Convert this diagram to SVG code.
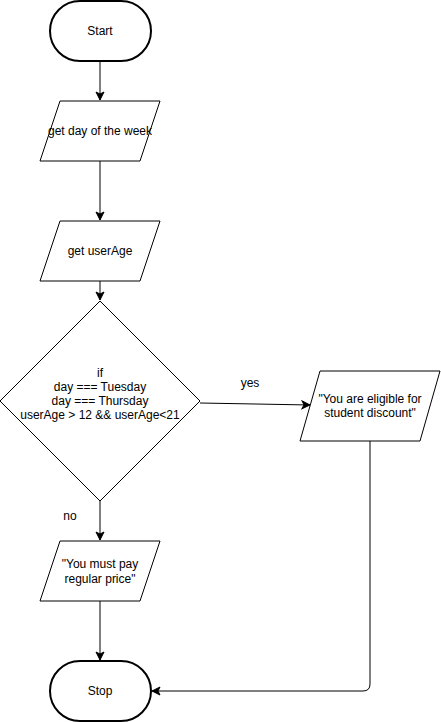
<svg xmlns="http://www.w3.org/2000/svg" width="441" height="722" viewBox="0 0 441 722">
<style>
.sh{fill:#fff;stroke:#000;stroke-width:1}
.term{fill:#fff;stroke:#000;stroke-width:2}
.t{font-family:"Liberation Sans",Arial,sans-serif;font-size:12px;fill:#000;text-anchor:middle}
.c{fill:none;stroke:#000;stroke-width:1}
</style>
<defs>
<marker id="a" viewBox="0 0 10 10" refX="9" refY="5" markerWidth="10" markerHeight="10" markerUnits="userSpaceOnUse" orient="auto">
<path d="M1,1 L9,5 L1,9 L3,5 Z" fill="#000" stroke="#000"/>
</marker>
</defs>
<g id="connectors">
<path class="c" d="M100,62 L100,100" marker-end="url(#a)"/>
<path class="c" d="M100,161 L100,220" marker-end="url(#a)"/>
<path class="c" d="M100,281 L100,300" marker-end="url(#a)"/>
<path class="c" d="M200,403 L310,405" marker-end="url(#a)"/>
<text class="t" x="250" y="387">yes</text>
<path class="c" d="M100,501 L100,540" marker-end="url(#a)"/>
<text class="t" x="70" y="520">no</text>
<path class="c" d="M100,601 L100,660" marker-end="url(#a)"/>
<path class="c" d="M370,441 L370,684 Q370,691 363,691 L152,691" marker-end="url(#a)"/>
</g>
<g id="start">
<rect class="term" x="50" y="1" width="101" height="60" rx="30" ry="30"/>
<text class="t" x="100" y="35">Start</text>
</g>
<g id="getDay">
<polygon class="sh" points="60,101 160,101 140,161 40,161"/>
<text class="t" x="100" y="135">get day of the week</text>
</g>
<g id="getAge">
<polygon class="sh" points="60,221 160,221 140,281 40,281"/>
<text class="t" x="100" y="255">get userAge</text>
</g>
<g id="decision">
<polygon class="sh" points="100,301 200,401 100,501 0,401"/>
<text class="t" x="100" y="377">if</text>
<text class="t" x="100" y="391">day === Tuesday</text>
<text class="t" x="100" y="405">day === Thursday</text>
<text class="t" x="100" y="419">userAge &gt; 12 &amp;&amp; userAge&lt;21</text>
</g>
<g id="eligible">
<polygon class="sh" points="320,371 440,371 420,441 300,441"/>
<text class="t" x="370" y="403">"You are eligible for</text>
<text class="t" x="370" y="417">student discount"</text>
</g>
<g id="regular">
<polygon class="sh" points="60,541 160,541 140,601 40,601"/>
<text class="t" x="100" y="568">"You must pay</text>
<text class="t" x="100" y="583">regular price"</text>
</g>
<g id="stop">
<rect class="term" x="50" y="661" width="101" height="60" rx="30" ry="30"/>
<text class="t" x="100" y="695">Stop</text>
</g>
</svg>
